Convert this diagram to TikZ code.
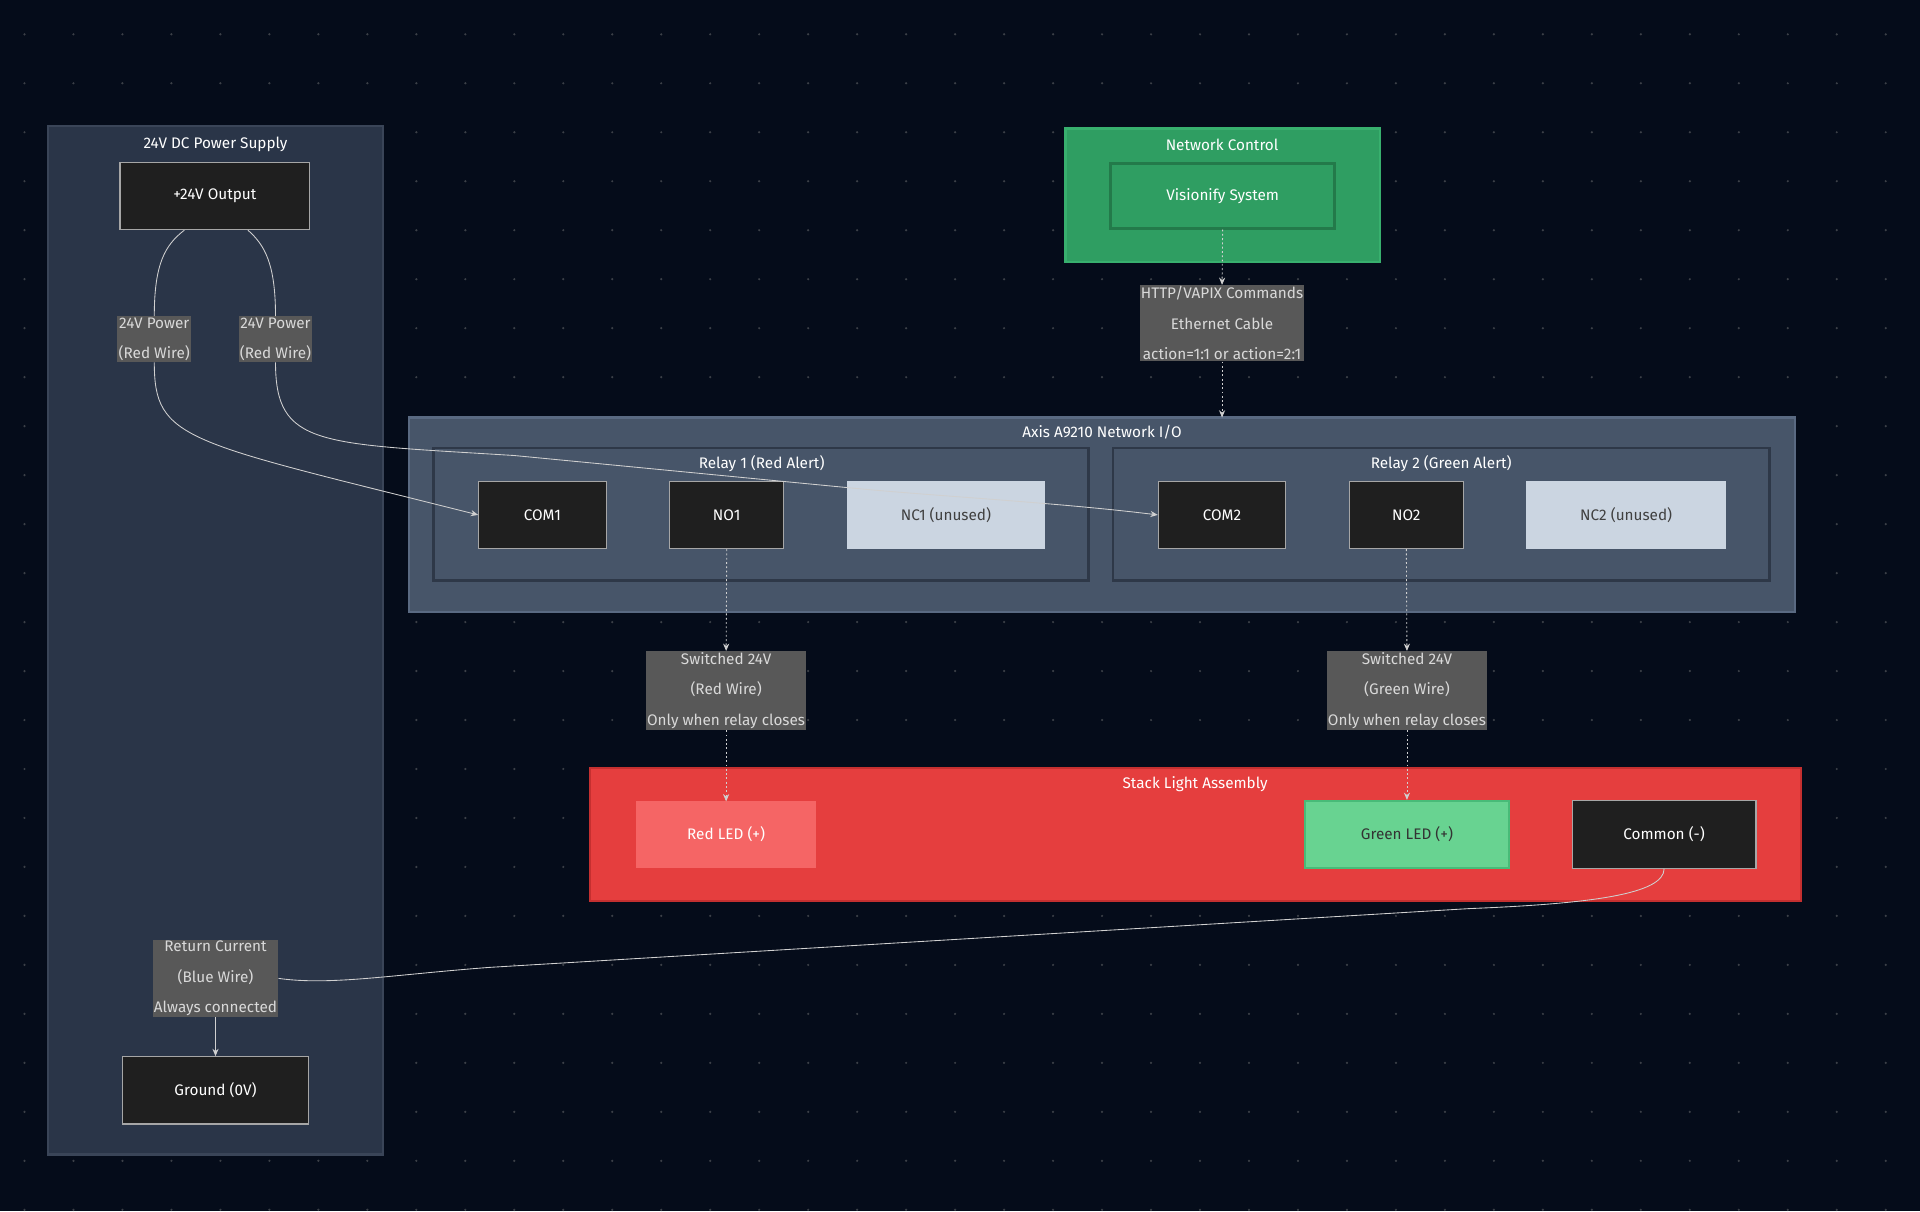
\documentclass[tikz,border=0pt]{standalone}
\usepackage{fontspec}
\setmainfont{Fira Sans}
\usetikzlibrary{arrows.meta}
\definecolor{bg}{HTML}{050C1A}
\definecolor{psu}{HTML}{2A3548}
\definecolor{psub}{HTML}{3A4558}
\definecolor{axis}{HTML}{475569}
\definecolor{axisb}{HTML}{5A6A82}
\definecolor{relb}{HTML}{2E3848}
\definecolor{grn}{HTML}{2F9E62}
\definecolor{grnb}{HTML}{38B06E}
\definecolor{grnn}{HTML}{237A4A}
\definecolor{red1}{HTML}{E53E3E}
\definecolor{red1b}{HTML}{C53030}
\definecolor{redled}{HTML}{F56565}
\definecolor{gled}{HTML}{68D391}
\definecolor{gledb}{HTML}{48BB78}
\definecolor{nc}{HTML}{CBD5E1}
\definecolor{lbl}{HTML}{585858}
\definecolor{wire}{HTML}{D0D0D0}
\begin{document}
\begin{tikzpicture}[x=1pt,y=-1pt,
  node font=\fontsize{12.5}{15}\selectfont,
  cl/.style={draw=#1, line width=2pt},
  box/.style={draw=#1, line width=1pt, minimum height=55pt, text=white, inner sep=0pt},
  dk/.style={box=gray!70, fill=black!88},
  ncs/.style={box=nc, fill=nc, text=black!75},
  ttl/.style={text=white},
  el/.style={fill=lbl, text=black!15, align=center, inner sep=1pt, font=\fontsize{12.5}{25}\selectfont},
  w/.style={draw=wire, line width=0.7pt},
  ar/.style={w, -{Stealth[length=6pt,width=5pt]}},
  dt/.style={ar, dash pattern=on 1.5pt off 2pt}]
\fill[bg] (0,0) rectangle (1568,989);
\useasboundingbox (0,0) rectangle (1568,989);
\foreach \i in {0,...,39} \foreach \j in {0,...,24}
  \fill[gray!45!bg] (20+40*\i,28+40*\j) circle (1pt);
% clusters
\draw[cl=psub, fill=psu] (39,103) rectangle (313,943);
\node[ttl] (tpsu) at (176,118) {24V DC Power Supply};
\draw[cl=grnb, fill=grn] (870,105) rectangle (1127,214);
\node[ttl] (tnet) at (998,118) {Network Control};
\draw[cl=axisb, fill=axis] (334,341) rectangle (1466,500);
\node[ttl] (tax) at (900,353) {Axis A9210 Network I/O};
\draw[cl=relb, fill=axis] (354,366) rectangle (889,474);
\node[ttl] (tr1) at (622,379) {Relay 1 (Red Alert)};
\draw[cl=relb, fill=axis] (909,366) rectangle (1445,474);
\node[ttl] (tr2) at (1177,379) {Relay 2 (Green Alert)};
\draw[cl=red1b, fill=red1] (482,627) rectangle (1471,736);
\node[ttl] (tsl) at (976,640) {Stack Light Assembly};
% nodes
\node[dk, minimum width=155pt] (out) at (175.5,160) {+24V Output};
\node[dk, minimum width=152pt] (gnd) at (176,890.5) {Ground (0V)};
\node[box=grnn, line width=2pt, fill=grn, minimum width=183pt, minimum height=53pt] (vis) at (998.5,160) {Visionify System};
\node[dk, minimum width=104pt] (com1) at (443,420.5) {COM1};
\node[dk, minimum width=93pt] (no1) at (593.5,420.5) {NO1};
\node[ncs, minimum width=161pt] (nc1) at (772.5,420.5) {NC1 (unused)};
\node[dk, minimum width=104pt] (com2) at (998,420.5) {COM2};
\node[dk, minimum width=93pt] (no2) at (1148.5,420.5) {NO2};
\node[ncs, minimum width=162pt] (nc2) at (1328,420.5) {NC2 (unused)};
\node[box=redled, fill=redled, minimum width=146pt, minimum height=53pt] (rled) at (593,681.5) {Red LED (+)};
\node[box=gledb, line width=1.5pt, fill=gled, text=black!80, minimum width=166pt] (gled) at (1149,681.5) {Green LED (+)};
\node[dk, minimum width=150pt] (cmn) at (1359,681.5) {Common (-)};
% edge labels
\node[el] (l1) at (126,277) {24V Power\\(Red Wire)};
\node[el] (l2) at (225,277) {24V Power\\(Red Wire)};
\node[el] (l3) at (998,264) {HTTP/VAPIX Commands\\Ethernet Cable\\action=1:1 or action=2:1};
\node[el] (l4) at (593,564) {Switched 24V\\(Red Wire)\\Only when relay closes};
\node[el] (l5) at (1149,564) {Switched 24V\\(Green Wire)\\Only when relay closes};
\node[el] (l6) at (176,799) {Return Current\\(Blue Wire)\\Always connected};
% edges
\draw[w] ([xshift=-25pt]out.south) .. controls (135,200) and (126,215) .. (l1.north);
\draw[ar] (l1.south) .. controls (126,360) and (150,360) .. (com1.west);
\draw[w] ([xshift=27pt]out.south) .. controls (216,200) and (225,215) .. (l2.north);
\draw[ar] (l2.south) .. controls (225,365) and (260,362) .. (420,372) -- (690,398) .. controls (760,405) and (860,410) .. (com2.west);
\draw[dt] (vis.south) -- (l3.north);
\draw[dt] (l3.south) -- (998,341);
\draw[dt] (no1.south) -- (l4.north);
\draw[dt] (l4.south) -- (rled.north);
\draw[dt] (no2.south) -- (l5.north);
\draw[dt] (l5.south) -- (gled.north);
\draw[w] (cmn.south) .. controls (1359,730) and (1300,738) .. (1200,742) -- (400,790) .. controls (320,796) and (270,805) .. (l6.east);
\draw[ar] (l6.south) .. controls (176,845) and (176,845) .. (gnd.north);
\end{tikzpicture}
\end{document}
